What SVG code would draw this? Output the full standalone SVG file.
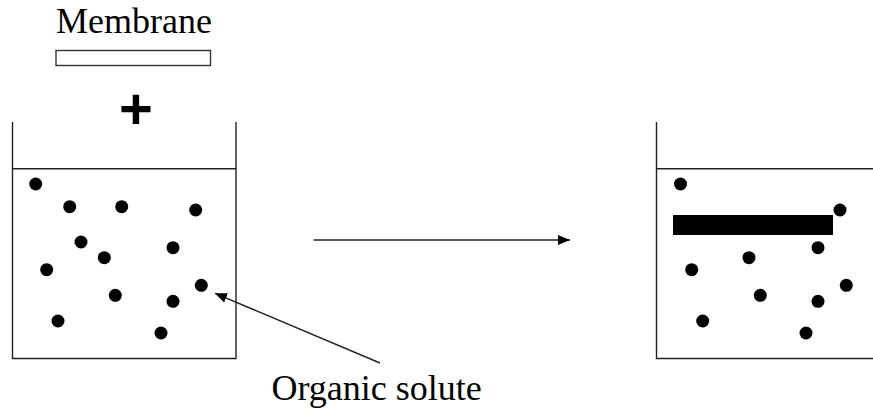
<svg xmlns="http://www.w3.org/2000/svg" width="873" height="408" viewBox="0 0 873 408">
<style>
.ln{stroke:#222;stroke-width:1.4;fill:none}
.dot{fill:#000}
</style>
<defs>
<marker id="ah" viewBox="0 0 12 10" refX="12" refY="5" markerWidth="12" markerHeight="10" markerUnits="userSpaceOnUse" orient="auto">
<path d="M0,0 L12,5 L0,10 z" fill="#000"/>
</marker>
</defs>
<rect width="873" height="408" fill="#fff"/>
<g id="membrane">
<text x="56" y="33" font-family="Liberation Serif, Times New Roman, serif" font-size="36" fill="#000">Membrane</text>
<rect x="56" y="50.5" width="154.5" height="15" fill="#fff" stroke="#333" stroke-width="1.4"/>
</g>
<g id="plus">
<text x="136" y="129" text-anchor="middle" font-family="Liberation Sans, Arial, sans-serif" font-weight="bold" font-size="58">+</text>
</g>
<g id="beaker-left">
<path class="ln" d="M12.5,122 V358.5 H236 V122 M12.5,168.7 H236"/>
<g class="dot">
<circle cx="35.7" cy="184" r="6.5"/>
<circle cx="69.7" cy="206.7" r="6.5"/>
<circle cx="121.7" cy="206.7" r="6.5"/>
<circle cx="195.7" cy="210" r="6.5"/>
<circle cx="81" cy="242" r="6.5"/>
<circle cx="173" cy="247.7" r="6.5"/>
<circle cx="104.3" cy="257.7" r="6.5"/>
<circle cx="46.7" cy="269.7" r="6.5"/>
<circle cx="201.3" cy="285.3" r="6.5"/>
<circle cx="115.3" cy="295.3" r="6.5"/>
<circle cx="173" cy="301.3" r="6.5"/>
<circle cx="58" cy="321" r="6.5"/>
<circle cx="161" cy="333" r="6.5"/>
</g>
</g>
<g id="beaker-right">
<path class="ln" d="M656.5,122 V358.5 H873 M656.5,168.7 H873"/>
<rect x="673" y="215" width="160" height="20" fill="#000"/>
<g class="dot">
<circle cx="680.5" cy="184" r="6.5"/>
<circle cx="840" cy="210" r="6.5"/>
<circle cx="818" cy="247.7" r="6.5"/>
<circle cx="749" cy="257.7" r="6.5"/>
<circle cx="691.7" cy="269.7" r="6.5"/>
<circle cx="846.3" cy="285.3" r="6.5"/>
<circle cx="760.3" cy="295.3" r="6.5"/>
<circle cx="818" cy="301.3" r="6.5"/>
<circle cx="702.7" cy="321" r="6.5"/>
<circle cx="806" cy="333" r="6.5"/>
</g>
</g>
<g id="label-solute">
<text x="271.5" y="400" font-family="Liberation Serif, Times New Roman, serif" font-size="36" fill="#000">Organic solute</text>
</g>
<g id="connectors">
<line class="ln" x1="313.5" y1="240" x2="570" y2="240" marker-end="url(#ah)"/>
<line class="ln" x1="380" y1="363" x2="215" y2="293.3" marker-end="url(#ah)"/>
</g>
</svg>
